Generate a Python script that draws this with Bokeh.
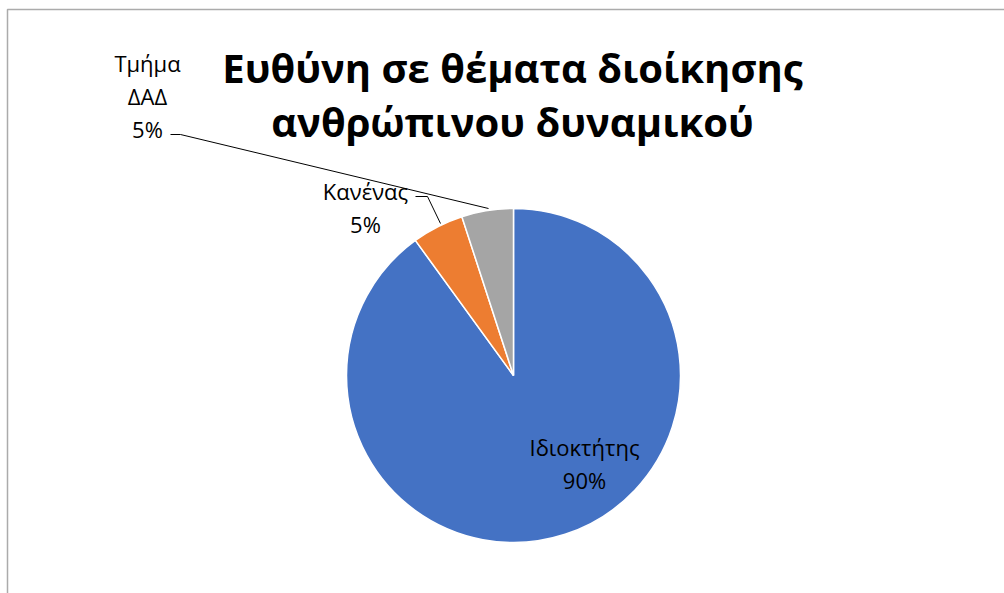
import math
from bokeh.plotting import figure
from bokeh.models import Range1d
from bokeh.core.properties import value
from bokeh.embed import file_html
from bokeh.resources import INLINE

# ---- data ----
title_lines = ["Ευθύνη σε θέματα διοίκησης", "ανθρώπινου δυναμικού"]
categories = ["Ιδιοκτήτης", "Κανένας", "Τμήμα ΔΑΔ"]
values = [90, 5, 5]
colors = ["#4472C4", "#ED7D31", "#A5A5A5"]

# ---- layout (pixels, top-left origin) ----
W, H = 1004, 593
cx, cy, R = 513, 375, 167
label_anchor = [(584, 446), (365, 190), (147, 62)]
line_gap = 33
leaders = [None, [(415, 196), (427, 196), (440, 223)], [(170, 134), (180, 134), (488, 208)]]

def Y(y):
    return H - y

p = figure(width=W, height=H, output_backend="svg", toolbar_location=None,
           x_range=Range1d(0, W), y_range=Range1d(0, H),
           x_axis_type=None, y_axis_type=None, min_border=0,
           outline_line_color=None, background_fill_color="white",
           border_fill_color="white")
p.grid.visible = False

# chart frame
p.quad(left=[7], right=[W + 20], top=[Y(9)], bottom=[-20],
       fill_color=None, line_color="#ABABAB", line_width=1.5)

# pie
total = sum(values)
cum = 0.0
starts, ends = [], []
for v in values:
    a0 = math.pi / 2 - 2 * math.pi * cum / total
    cum += v
    a1 = math.pi / 2 - 2 * math.pi * cum / total
    starts.append(a0)
    ends.append(a1)
p.wedge(x=[cx] * len(values), y=[Y(cy)] * len(values), radius=R,
        start_angle=starts, end_angle=ends, direction="clock",
        fill_color=colors, line_color="white", line_width=1.5)

# leader lines
for pts in leaders:
    if pts:
        p.line([q[0] for q in pts], [Y(q[1]) for q in pts], line_color="black", line_width=1)

# data labels
for cat, v, (lx, ly) in zip(categories, values, label_anchor):
    lines = cat.split(" ") + [f"{v}%"]
    p.text(x=[lx] * len(lines), y=[Y(ly + i * line_gap) for i in range(len(lines))],
           text=lines, text_align="center", text_baseline="middle",
           text_font=value("Open Sans"), text_font_size="22px", text_color="#000000")

# title
p.text(x=[512, 512], y=[Y(67), Y(121)], text=title_lines,
       text_align="center", text_baseline="middle",
       text_font=value("Open Sans"), text_font_style="bold",
       text_font_size="40px", text_color="#000000")

open("out.html", "w").write(file_html(p, INLINE))
